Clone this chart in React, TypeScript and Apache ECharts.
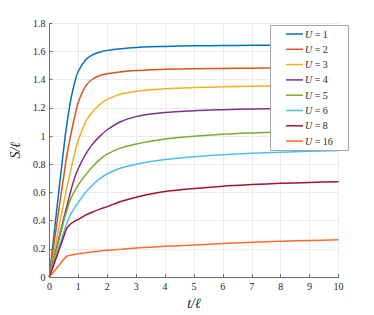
import React, { useEffect, useRef } from "react";
import * as echarts from "echarts";

const tValues = [0, 0.25, 0.5, 0.6, 0.75, 0.9, 1, 1.25, 1.5, 1.75, 2, 2.5, 3, 3.5, 4, 5, 6, 7, 8, 9, 10];

const seriesNames = ["1", "2", "3", "4", "5", "6", "8", "16"];
const seriesColors = ["#0072BD", "#D95319", "#EDB120", "#7E2F8E", "#77AC30", "#4DBEEE", "#A2142F", "#FF6929"];

const sU1 = [0, 0.47, 0.92, 1.08, 1.27, 1.40, 1.46, 1.54, 1.578, 1.597, 1.608, 1.62, 1.628, 1.633, 1.636, 1.64, 1.642, 1.644, 1.645, 1.646, 1.647];
const sU2 = [0, 0.37, 0.72, 0.86, 1.02, 1.16, 1.24, 1.355, 1.405, 1.43, 1.442, 1.456, 1.465, 1.47, 1.474, 1.478, 1.48, 1.482, 1.483, 1.484, 1.485];
const sU3 = [0, 0.27, 0.53, 0.63, 0.77, 0.9, 0.97, 1.1, 1.175, 1.225, 1.26, 1.3, 1.318, 1.328, 1.336, 1.344, 1.35, 1.354, 1.357, 1.36, 1.362];
const sU4 = [0, 0.21, 0.42, 0.5, 0.62, 0.72, 0.77, 0.87, 0.945, 1.0, 1.045, 1.105, 1.138, 1.156, 1.167, 1.18, 1.187, 1.192, 1.196, 1.199, 1.201];
const sU5 = [0, 0.2, 0.4, 0.47, 0.56, 0.62, 0.655, 0.725, 0.785, 0.835, 0.872, 0.918, 0.944, 0.964, 0.979, 0.999, 1.013, 1.022, 1.029, 1.035, 1.04];
const sU6 = [0, 0.16, 0.32, 0.38, 0.45, 0.5, 0.53, 0.6, 0.655, 0.698, 0.733, 0.775, 0.8, 0.82, 0.834, 0.854, 0.868, 0.878, 0.886, 0.892, 0.898];
const sU8 = [0, 0.145, 0.29, 0.345, 0.38, 0.4, 0.41, 0.44, 0.462, 0.482, 0.5, 0.538, 0.567, 0.59, 0.607, 0.628, 0.645, 0.656, 0.665, 0.671, 0.677];
const sU16 = [0, 0.063, 0.127, 0.148, 0.157, 0.163, 0.166, 0.172, 0.179, 0.185, 0.19, 0.198, 0.206, 0.212, 0.218, 0.228, 0.238, 0.247, 0.254, 0.26, 0.265];

const allSeries = [sU1, sU2, sU3, sU4, sU5, sU6, sU8, sU16];

const FONT = "'Liberation Serif', 'DejaVu Serif', serif";

export default function App() {
  const ref = useRef<HTMLDivElement>(null);
  useEffect(() => {
    document.body.style.margin = "0";
    if (!ref.current) return;
    const chart = echarts.init(ref.current, null, { renderer: "svg" });
    const series = allSeries.map((vals, i) => ({
      name: seriesNames[i],
      type: "line",
      data: tValues.map((t, j) => [t, vals[j]]),
      showSymbol: false,
      symbol: "none",
      smooth: 0.3,
      lineStyle: { width: 1.5, color: seriesColors[i] },
      itemStyle: { color: seriesColors[i] },
    }));
    chart.setOption({
      animation: false,
      backgroundColor: "#ffffff",
      grid: { left: 48.5, right: 35.5, top: 23.3, bottom: 35.7, containLabel: false },
      xAxis: {
        type: "value",
        min: 0,
        max: 10,
        interval: 1,
        name: "t/ℓ",
        nameLocation: "middle",
        nameGap: 15.5,
        nameTextStyle: { fontFamily: FONT, fontStyle: "italic", fontSize: 14, color: "#262626" },
        axisLine: { show: true, lineStyle: { color: "#6e6e6e", width: 1 } },
        axisTick: { show: true, inside: true, length: 3, lineStyle: { color: "#6e6e6e" } },
        axisLabel: { fontFamily: FONT, fontSize: 10, color: "#262626", margin: 4 },
        splitLine: { show: true, lineStyle: { color: "#ebebeb", width: 1 } },
      },
      yAxis: {
        type: "value",
        min: 0,
        max: 1.8,
        interval: 0.2,
        name: "S/ℓ",
        nameLocation: "middle",
        nameGap: 18.5,
        nameRotate: 90,
        nameTextStyle: { fontFamily: FONT, fontStyle: "italic", fontSize: 14, color: "#262626" },
        axisLine: { show: true, lineStyle: { color: "#6e6e6e", width: 1 } },
        axisTick: { show: true, inside: true, length: 3, lineStyle: { color: "#6e6e6e" } },
        axisLabel: {
          fontFamily: FONT,
          fontSize: 10,
          color: "#262626",
          margin: 4,
          formatter: (v: number) => String(+v.toFixed(1)),
        },
        splitLine: { show: true, lineStyle: { color: "#ebebeb", width: 1 } },
      },
      graphic: [
        {
          type: "rect",
          shape: { x: 270.5, y: 25.5, width: 78, height: 125 },
          style: { fill: "#ffffff", stroke: "#a6a6a6", lineWidth: 1 },
          z: 10,
        },
      ],
      legend: {
        orient: "vertical",
        left: 286,
        top: 28,
        padding: 0,
        itemGap: 3.3,
        itemWidth: 17,
        itemHeight: 12,
        z: 20,
        icon: "path://M0,5.25 L17,5.25 L17,6.75 L0,6.75 Z",
        data: seriesNames,
        formatter: (name: string) => "{i|U} = " + name,
        textStyle: {
          fontFamily: FONT,
          fontSize: 10,
          lineHeight: 12,
          color: "#262626",
          padding: [0, 0, 0, -3],
          rich: {
            i: { fontFamily: FONT, fontSize: 10, fontStyle: "italic", color: "#262626" },
          },
        },
      },
      series,
    });
    return () => chart.dispose();
  }, []);
  return <div ref={ref} style={{ width: 374, height: 315 }} />;
}
